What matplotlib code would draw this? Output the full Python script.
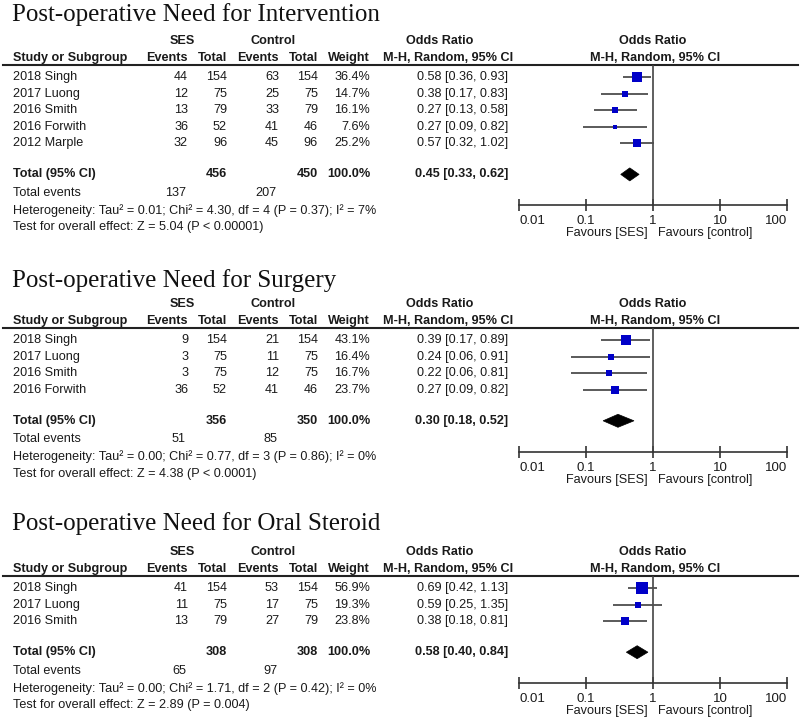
"""Three forest plots (RevMan style) for post-operative outcomes, SES vs control"""
import numpy as np
import matplotlib.pyplot as plt
from matplotlib.patches import Polygon
from matplotlib.ticker import NullLocator

plt.rcParams['font.family'] = ['Liberation Sans', 'DejaVu Sans']

titles = ["Post-operative Need for Intervention",
          "Post-operative Need for Surgery",
          "Post-operative Need for Oral Steroid"]

studies = [["2018 Singh", "2017 Luong", "2016 Smith", "2016 Forwith", "2012 Marple"],
           ["2018 Singh", "2017 Luong", "2016 Smith", "2016 Forwith"],
           ["2018 Singh", "2017 Luong", "2016 Smith"]]
ses_events = [[44, 12, 13, 36, 32], [9, 3, 3, 36], [41, 11, 13]]
ses_total = [[154, 75, 79, 52, 96], [154, 75, 75, 52], [154, 75, 79]]
ctl_events = [[63, 25, 33, 41, 45], [21, 11, 12, 41], [53, 17, 27]]
ctl_total = [[154, 75, 79, 46, 96], [154, 75, 75, 46], [154, 75, 79]]
weights = [[36.4, 14.7, 16.1, 7.6, 25.2], [43.1, 16.4, 16.7, 23.7], [56.9, 19.3, 23.8]]
odds = [[0.58, 0.38, 0.27, 0.27, 0.57], [0.39, 0.24, 0.22, 0.27], [0.69, 0.59, 0.38]]
ci_low = [[0.36, 0.17, 0.13, 0.09, 0.32], [0.17, 0.06, 0.06, 0.09], [0.42, 0.25, 0.18]]
ci_high = [[0.93, 0.83, 0.58, 0.82, 1.02], [0.89, 0.91, 0.81, 0.82], [1.13, 1.35, 0.81]]
pooled = [0.45, 0.30, 0.58]
pooled_low = [0.33, 0.18, 0.40]
pooled_high = [0.62, 0.52, 0.84]
heterogeneity = ["Heterogeneity: Tau\u00b2 = 0.01; Chi\u00b2 = 4.30, df = 4 (P = 0.37); I\u00b2 = 7%",
                 "Heterogeneity: Tau\u00b2 = 0.00; Chi\u00b2 = 0.77, df = 3 (P = 0.86); I\u00b2 = 0%",
                 "Heterogeneity: Tau\u00b2 = 0.00; Chi\u00b2 = 1.71, df = 2 (P = 0.42); I\u00b2 = 0%"]
overall = ["Test for overall effect: Z = 5.04 (P < 0.00001)",
           "Test for overall effect: Z = 4.38 (P < 0.0001)",
           "Test for overall effect: Z = 2.89 (P = 0.004)"]
ticks = [0.01, 0.1, 1, 10, 100]
tick_labels = ["0.01", "0.1", "1", "10", "100"]

# layout, in pixels of the 800x720 canvas
W, H = 800, 720
header_line_y = [65, 328, 576]
title_baseline = [21, 287, 530]
row_step = 16.6
fx0, fx1 = 519, 787          # forest axis from 0.01 to 100
col_right = dict(se=188, st=227, ce=279, ct=318, w=370, orr=508)
txt = '#1a1a1a'
fs = 9.1

fig = plt.figure(figsize=(8, 7.2), dpi=100)
ax = fig.add_axes([0, 0, 1, 1])
ax.set_xlim(0, W)
ax.set_ylim(H, 0)
ax.axis('off')

for p in range(3):
    y0 = header_line_y[p]
    n = len(studies[p])
    rows_y = y0 + 12 + row_step * np.arange(n)
    y_tot = rows_y[-1] + 31
    y_ev = y_tot + 18.5
    y_het = y_ev + 17.5
    y_test = y_het + 17
    y_axis = y_tot + 31

    ax.text(12, title_baseline[p], titles[p], family='Liberation Serif',
            fontsize=18, color='#111111', va='baseline', ha='left')

    # headers
    b = dict(fontsize=fs, fontweight='bold', color=txt, va='center')
    ax.text(182, y0 - 24, "SES", ha='center', **b)
    ax.text(273, y0 - 24, "Control", ha='center', **b)
    ax.text(440, y0 - 24, "Odds Ratio", ha='center', **b)
    ax.text(653, y0 - 24, "Odds Ratio", ha='center', **b)
    ax.text(13, y0 - 7, "Study or Subgroup", ha='left', **b)
    ax.text(col_right['se'], y0 - 7, "Events", ha='right', **b)
    ax.text(col_right['st'], y0 - 7, "Total", ha='right', **b)
    ax.text(col_right['ce'], y0 - 7, "Events", ha='right', **b)
    ax.text(col_right['ct'], y0 - 7, "Total", ha='right', **b)
    ax.text(col_right['w'], y0 - 7, "Weight", ha='right', **b)
    ax.text(448, y0 - 7, "M-H, Random, 95% CI", ha='center', **b)
    ax.text(655, y0 - 7, "M-H, Random, 95% CI", ha='center', **b)
    ax.plot([3, 798], [y0, y0], color='#222222', lw=1.5)

    # study rows
    r = dict(fontsize=fs, color=txt, va='center')
    for i in range(n):
        y = rows_y[i]
        ax.text(13, y, studies[p][i], ha='left', **r)
        ax.text(col_right['se'], y, str(ses_events[p][i]), ha='right', **r)
        ax.text(col_right['st'], y, str(ses_total[p][i]), ha='right', **r)
        ax.text(col_right['ce'], y, str(ctl_events[p][i]), ha='right', **r)
        ax.text(col_right['ct'], y, str(ctl_total[p][i]), ha='right', **r)
        ax.text(col_right['w'], y, f"{weights[p][i]:.1f}%", ha='right', **r)
        ax.text(col_right['orr'], y,
                f"{odds[p][i]:.2f} [{ci_low[p][i]:.2f}, {ci_high[p][i]:.2f}]", ha='right', **r)

    # totals
    ax.text(13, y_tot, "Total (95% CI)", ha='left', **b)
    ax.text(col_right['st'], y_tot, str(sum(ses_total[p])), ha='right', **b)
    ax.text(col_right['ct'], y_tot, str(sum(ctl_total[p])), ha='right', **b)
    ax.text(col_right['w'], y_tot, "100.0%", ha='right', **b)
    ax.text(col_right['orr'], y_tot,
            f"{pooled[p]:.2f} [{pooled_low[p]:.2f}, {pooled_high[p]:.2f}]", ha='right', **b)
    ax.text(13, y_ev, "Total events", ha='left', **r)
    ax.text(col_right['se'] - 2, y_ev, str(sum(ses_events[p])), ha='right', **r)
    ax.text(col_right['ce'] - 2, y_ev, str(sum(ctl_events[p])), ha='right', **r)
    ax.text(13, y_het, heterogeneity[p], ha='left', **r)
    ax.text(13, y_test, overall[p], ha='left', **r)
    ax.text(648, y_axis + 28, "Favours [SES]", ha='right', **r)
    ax.text(658, y_axis + 28, "Favours [control]", ha='left', **r)

    # forest plot, log odds ratio axis
    fa = fig.add_axes([fx0 / W, 1 - y_axis / H, (fx1 - fx0) / W, (y_axis - y0) / H])
    fa.set_xscale('log')
    fa.set_xlim(0.01, 100)
    fa.set_ylim(y_axis, y0)
    fa.patch.set_alpha(0)
    for s in ['top', 'left', 'right']:
        fa.spines[s].set_visible(False)
    fa.spines['bottom'].set_color('#333333')
    fa.spines['bottom'].set_linewidth(1.2)
    fa.set_yticks([])
    fa.set_xticks(ticks)
    fa.set_xticklabels(tick_labels)
    fa.xaxis.set_minor_locator(NullLocator())
    fa.tick_params(axis='x', direction='inout', length=9, width=1.2, pad=2.5,
                   labelsize=fs + 0.4, colors='#333333', labelcolor=txt)
    labs = fa.get_xticklabels()
    labs[0].set_horizontalalignment('left')
    labs[-1].set_horizontalalignment('right')

    fa.axvline(1, color='#444444', lw=1.2)
    fa.hlines(rows_y, ci_low[p], ci_high[p], color='#4d4d4d', lw=1.3)
    for i in range(n):
        side = 1.5 * np.sqrt(weights[p][i])
        fa.plot(odds[p][i], rows_y[i], 's', ms=side * 0.72, color='#0000c8', mew=0)
    fa.add_patch(Polygon([(pooled_low[p], y_tot), (pooled[p], y_tot - 6.5),
                          (pooled_high[p], y_tot), (pooled[p], y_tot + 6.5)],
                         closed=True, facecolor='black', edgecolor='black', lw=0.5))

fig.savefig("out.png", dpi=100)
